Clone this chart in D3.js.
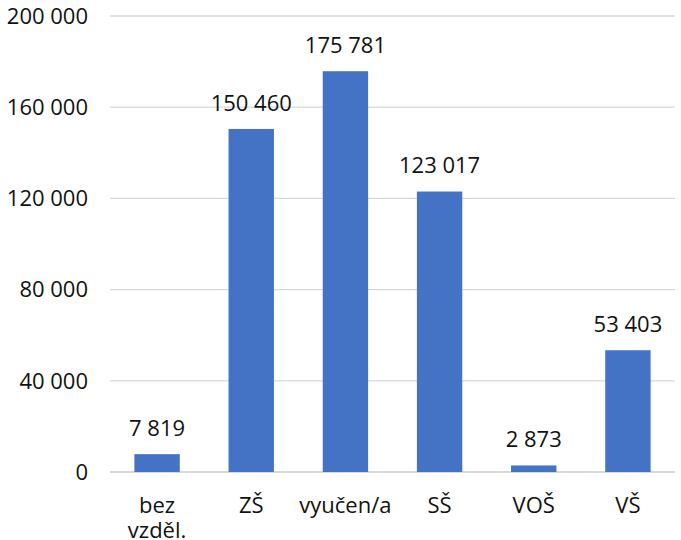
<!DOCTYPE html>
<html>
<head>
<meta charset="utf-8">
<script src="https://cdn.jsdelivr.net/npm/d3@7"></script>
<style>
body { margin: 0; background: #fff; }
text { font-family: "Open Sans", sans-serif; fill: #111; }
</style>
</head>
<body>
<script>
var categories = ["bez vzděl.", "ZŠ", "vyučen/a", "SŠ", "VOŠ", "VŠ"];
var values = [7819, 150460, 175781, 123017, 2873, 53403];
var yTicks = [0, 40000, 80000, 120000, 160000, 200000];

var width = 681, height = 540;
var margin = {top: 16, right: 6, bottom: 68, left: 110};

var svg = d3.select("body").append("svg")
	.attr("width", width)
	.attr("height", height);

var x = d3.scaleBand()
	.domain(categories)
	.range([margin.left, width - margin.right])
	.paddingInner(0.518)
	.paddingOuter(0.259);

var y = d3.scaleLinear()
	.domain([0, 200000])
	.range([height - margin.bottom, margin.top]);

var fmt = function(d){ return d3.format(",")(d).replace(/,/g, " "); };

// gridlines
svg.append("g")
	.selectAll("line")
	.data(yTicks)
	.enter().append("line")
	.attr("x1", margin.left)
	.attr("x2", width - margin.right)
	.attr("y1", function(d){ return y(d); })
	.attr("y2", function(d){ return y(d); })
	.attr("stroke", "#d9d9d9")
	.attr("stroke-width", function(d){ return d === 0 ? 2 : 1.3; });

// y labels
svg.append("g")
	.selectAll("text")
	.data(yTicks)
	.enter().append("text")
	.attr("x", 88)
	.attr("y", function(d){ return y(d); })
	.attr("dy", "0.35em")
	.attr("text-anchor", "end")
	.style("font-size", "22px")
	.text(fmt);

// bars
svg.append("g")
	.selectAll("rect")
	.data(values)
	.enter().append("rect")
	.attr("x", function(d, i){ return x(categories[i]); })
	.attr("width", x.bandwidth())
	.attr("y", function(d){ return y(d); })
	.attr("height", function(d){ return y(0) - y(d); })
	.attr("fill", "#4472c4");

// data labels
svg.append("g")
	.selectAll("text")
	.data(values)
	.enter().append("text")
	.attr("x", function(d, i){ return x(categories[i]) + x.bandwidth()/2; })
	.attr("y", function(d){ return y(d) - 26; })
	.attr("dy", "0.35em")
	.attr("text-anchor", "middle")
	.style("font-size", "22px")
	.text(fmt);

// category labels
var cat = svg.append("g")
	.selectAll("text")
	.data(categories)
	.enter().append("text")
	.attr("x", function(d){ return x(d) + x.bandwidth()/2; })
	.attr("y", 505)
	.attr("text-anchor", "middle")
	.style("font-size", "22px");

cat.each(function(d){
	var words = d === "bez vzděl." ? d.split(" ") : [d];
	var t = d3.select(this);
	words.forEach(function(w, i){
		t.append("tspan")
			.attr("x", t.attr("x"))
			.attr("dy", i === 0 ? "0.35em" : "25px")
			.text(w);
	});
});
</script>
</body>
</html>
